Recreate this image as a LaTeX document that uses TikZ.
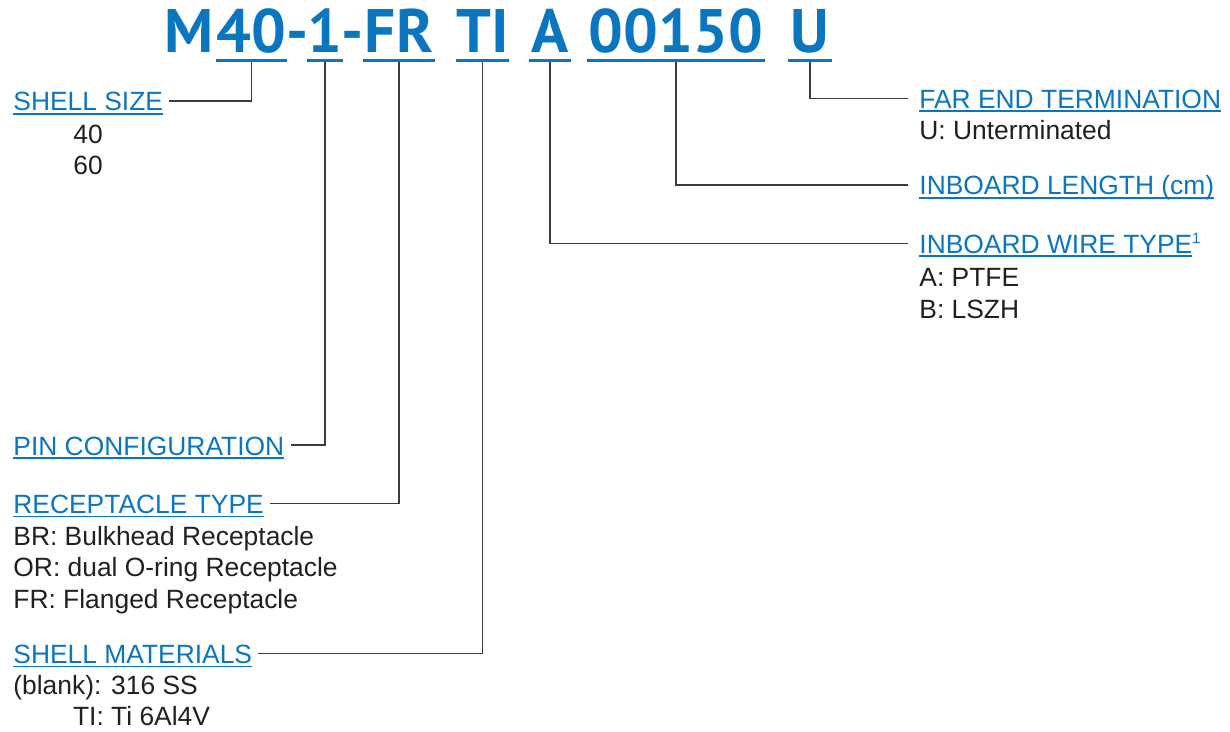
\documentclass[tikz,border=0pt]{standalone}
\usepackage{fontspec}
\setmainfont{Liberation Sans}
\newfontfamily\codefont{PT Sans}
\definecolor{bluec}{HTML}{0A76C0}
\definecolor{inkc}{HTML}{231F20}
\definecolor{wirec}{HTML}{3C3C3C}
\newcommand{\ul}[1]{\leavevmode\setbox0=\hbox{#1}\rlap{\rule[-2pt]{\wd0}{0.9pt}}\box0}
\newcommand{\opts}[1]{\begin{tabular}[t]{@{}l@{}}#1\end{tabular}}
\newcommand{\fnmark}[1]{\raisebox{5pt}{\fontsize{7.5}{8}\selectfont #1}}
\tikzset{
  code/.style ={font=\codefont\bfseries\fontsize{30.7}{36}\selectfont,text=bluec,
                anchor=base,inner xsep=0pt,inner ysep=3.5pt,text depth=0pt},
  ul/.style   ={draw=bluec,line width=1.5pt},
  lbl/.style  ={font=\fontsize{13.2}{15.85}\selectfont,text=bluec,anchor=base west,
                inner xsep=3pt,inner ysep=0pt,text height=10pt,text depth=0pt},
  opt/.style  ={font=\fontsize{13.2}{15.85}\selectfont,text=inkc,anchor=base west,
                inner sep=0pt},
  conn/.style ={draw=wirec,line width=.65pt},
}
\begin{document}
\begin{tikzpicture}[x=0.5pt,y=-0.5pt]
\useasboundingbox (0,0) rectangle (1230,732);

% ============================ part code =================================
\node[code] (sM)     at (189,53)   {M};
\node[code,minimum width=35.5pt] (s40)    at (251.5,53) {40};
\node[code] (d1)     at (297.5,53) {-};
\node[code,minimum width=18pt]   (s1)     at (325,53)   {1};
\node[code] (d2)     at (353,53)   {-};
\node[code,minimum width=36pt]   (sFR)    at (399,53)   {FR};
\node[code,minimum width=25.5pt] (sTI)    at (482.5,53) {TI};
\node[code,minimum width=21pt]   (sA)     at (550,53)   {A};
\node[code,minimum width=89pt]   (s00150) at (676,53)   {00150};
\node[code,minimum width=22pt]   (sU)     at (810,53)   {U};

% ============================ left side =================================
\node[lbl] (size)     at (7,111)     {\ul{SHELL SIZE}};
\node[opt] (sizeo)    at (73,143.3)  {\opts{40\\60}};
\node[lbl] (pins)     at (7,455)     {\ul{PIN CONFIGURATION}};
\node[lbl] (recept)   at (7,513.3)   {\ul{RECEPTACLE TYPE}};
\node[opt] (recepto)  at (13,545)
  {\opts{BR: Bulkhead Receptacle\\OR: dual O-ring Receptacle\\FR: Flanged Receptacle}};
\node[lbl] (shellmat) at (7,663.3)   {\ul{SHELL MATERIALS}};
\node[opt] (shellmato) at (13,694)
  {\begin{tabular}[t]{@{}r@{: }l@{}}(blank)&316 SS\\TI&Ti 6Al4V\end{tabular}};

% ============================ right side ================================
\node[lbl] (farend)   at (913,108.3) {\ul{FAR END TERMINATION}};
\node[opt] (farendo)  at (919,140)   {U: Unterminated};
\node[lbl] (length)   at (913,195)   {\ul{INBOARD LENGTH (cm)}};
\node[lbl] (wire)     at (913,253.3) {\ul{INBOARD WIRE TYPE}\fnmark{1}};
\node[opt] (wireo)    at (919,286.7) {\opts{A: PTFE\\B: LSZH}};

% connectors first, underlines on top
\draw[conn] (s40.south) |- (size.east);
\draw[conn] (s1.south)  |- (pins.east);
\draw[conn] (sFR.south) |- (recept.east);
\draw[conn] (sTI.south) |- (shellmat.east);
\draw[conn,shorten >=2.6pt] (sA.south)     |- (wire.west);
\draw[conn,shorten >=2.6pt] (s00150.south) |- (length.west);
\draw[conn,shorten >=2.6pt] (sU.south)     |- (farend.west);
\foreach \s in {s40,s1,sFR,sTI,sA,s00150,sU}
  \draw[ul] (\s.south west) -- (\s.south east);
\end{tikzpicture}
\end{document}
